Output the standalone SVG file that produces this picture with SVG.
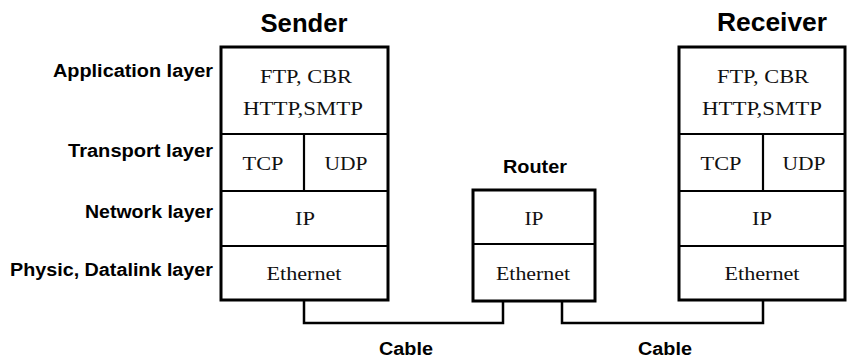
<svg xmlns="http://www.w3.org/2000/svg" width="848" height="360" viewBox="0 0 848 360">
<style>
.box{fill:#fff;stroke:#000;stroke-width:3}
.div{stroke:#000;stroke-width:2.2;fill:none}
.cab{stroke:#000;stroke-width:2.5;fill:none}
.s{font-family:"Liberation Serif","Times New Roman",serif;font-size:19px;fill:#111;text-anchor:middle}
.lbl{font-family:"Liberation Sans",Arial,sans-serif;font-weight:bold;font-size:18px;fill:#000;text-anchor:end}
.ttl{font-family:"Liberation Sans",Arial,sans-serif;font-weight:bold;font-size:26px;fill:#000;text-anchor:middle}
.cl{font-family:"Liberation Sans",Arial,sans-serif;font-weight:bold;font-size:18px;fill:#000;text-anchor:middle}
</style>
<rect width="848" height="360" fill="#fff"/>
<g id="layer-labels">
<text class="lbl" x="213" y="77" textLength="160" lengthAdjust="spacingAndGlyphs">Application layer</text>
<text class="lbl" x="213" y="157" textLength="145" lengthAdjust="spacingAndGlyphs">Transport layer</text>
<text class="lbl" x="213" y="218" textLength="128" lengthAdjust="spacingAndGlyphs">Network layer</text>
<text class="lbl" x="213" y="276" textLength="203" lengthAdjust="spacingAndGlyphs">Physic, Datalink layer</text>
</g>
<g id="connectors">
<polyline class="cab" points="304,300 304,323 503,323 503,301"/>
<polyline class="cab" points="562,301 562,323 763,323 763,300"/>
</g>
<g id="sender">
<text class="ttl" x="304" y="32" textLength="87" lengthAdjust="spacingAndGlyphs">Sender</text>
<rect class="box" x="221" y="47" width="167" height="253"/>
<line class="div" x1="221" y1="134" x2="388" y2="134"/>
<line class="div" x1="304" y1="134" x2="304" y2="191"/>
<line class="div" x1="221" y1="191" x2="388" y2="191"/>
<line class="div" x1="221" y1="246" x2="388" y2="246"/>
<text class="s" x="306" y="83" textLength="92" lengthAdjust="spacingAndGlyphs">FTP, CBR</text>
<text class="s" x="303" y="115" textLength="120" lengthAdjust="spacingAndGlyphs">HTTP,SMTP</text>
<text class="s" x="263" y="170" textLength="41" lengthAdjust="spacingAndGlyphs">TCP</text>
<text class="s" x="346" y="170" textLength="43" lengthAdjust="spacingAndGlyphs">UDP</text>
<text class="s" x="305" y="225" textLength="20" lengthAdjust="spacingAndGlyphs">IP</text>
<text class="s" x="304" y="280" textLength="75" lengthAdjust="spacingAndGlyphs">Ethernet</text>
</g>
<g id="router">
<text class="cl" x="535" y="173" textLength="64" lengthAdjust="spacingAndGlyphs">Router</text>
<rect class="box" x="473" y="190" width="122" height="111"/>
<line class="div" x1="473" y1="244" x2="595" y2="244"/>
<text class="s" x="534" y="225" textLength="19" lengthAdjust="spacingAndGlyphs">IP</text>
<text class="s" x="533" y="280" textLength="74" lengthAdjust="spacingAndGlyphs">Ethernet</text>
</g>
<g id="receiver">
<text class="ttl" x="772" y="31" textLength="110" lengthAdjust="spacingAndGlyphs">Receiver</text>
<rect class="box" x="679" y="47" width="166" height="253"/>
<line class="div" x1="679" y1="134" x2="845" y2="134"/>
<line class="div" x1="763" y1="134" x2="763" y2="191"/>
<line class="div" x1="679" y1="191" x2="845" y2="191"/>
<line class="div" x1="679" y1="246" x2="845" y2="246"/>
<text class="s" x="763" y="83" textLength="92" lengthAdjust="spacingAndGlyphs">FTP, CBR</text>
<text class="s" x="762" y="115" textLength="120" lengthAdjust="spacingAndGlyphs">HTTP,SMTP</text>
<text class="s" x="721" y="170" textLength="41" lengthAdjust="spacingAndGlyphs">TCP</text>
<text class="s" x="804" y="170" textLength="43" lengthAdjust="spacingAndGlyphs">UDP</text>
<text class="s" x="762" y="225" textLength="20" lengthAdjust="spacingAndGlyphs">IP</text>
<text class="s" x="762" y="280" textLength="75" lengthAdjust="spacingAndGlyphs">Ethernet</text>
</g>
<g id="cable-labels">
<text class="cl" x="406" y="355" textLength="54" lengthAdjust="spacingAndGlyphs">Cable</text>
<text class="cl" x="665" y="355" textLength="54" lengthAdjust="spacingAndGlyphs">Cable</text>
</g>
</svg>
